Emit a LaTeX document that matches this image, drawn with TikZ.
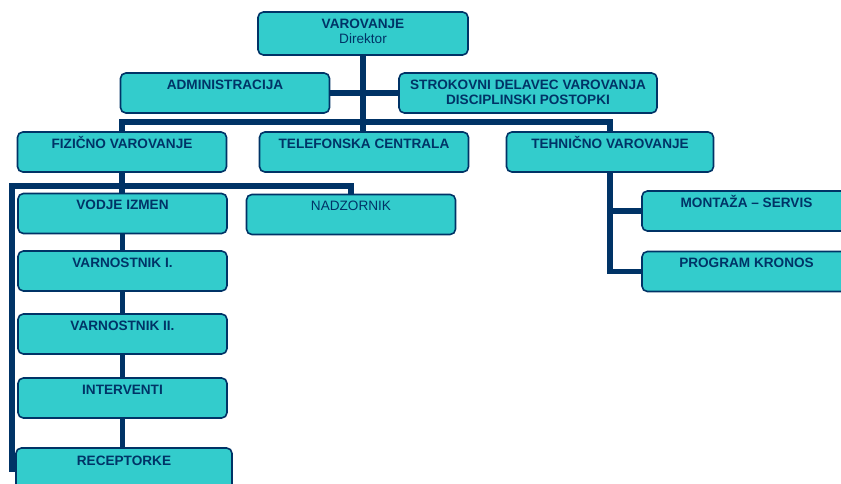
\documentclass[tikz,border=0pt]{standalone}
\usepackage{fontspec}
\setmainfont{Liberation Sans}
\usepackage{xcolor}
\usepackage{tikz}
\usetikzlibrary{positioning,calc}

\definecolor{navy}{HTML}{003366}
\definecolor{aqua}{HTML}{33CCCC}

\begin{document}
\begin{tikzpicture}[
    x=0.75pt, y=-0.75pt,
    unit/.style={rectangle, draw=navy, line width=1.2pt, fill=aqua, rounded corners=4pt, text=navy, font=\fontsize{10.2}{11.5}\selectfont\bfseries, align=center, minimum width=156.75pt, minimum height=30pt, inner xsep=2pt, inner ysep=3.5pt, text height=8.8pt, text depth=14.2pt},
    link/.style={draw=navy, line width=4.2pt, line join=miter}
]
\useasboundingbox (0,0) rectangle (841,484);
\clip (0,0) rectangle (841,484);

% Management
\node[unit, minimum width=157.5pt, minimum height=32.25pt, text height=20.3pt, text depth=4.95pt] (varovanje) at (363,33.5) {VAROVANJE\\\mdseries Direktor};
\node[unit] (admin) at (225,93) {ADMINISTRACIJA};
\node[unit, minimum width=193.5pt, text height=20.3pt, text depth=2.7pt] (strokovni) at (528,93) {STROKOVNI DELAVEC VAROVANJA\\DISCIPLINSKI POSTOPKI};

% Departments
\node[unit] (fizicno) at (122,152) {FIZIČNO VAROVANJE};
\node[unit] (telefon) at (364,152) {TELEFONSKA CENTRALA};
\node[unit, minimum width=155.25pt] (tehnicno) at (610,152) {TEHNIČNO VAROVANJE};

% Physical security
\node[unit] (vodje) at (122.5,213.5) {VODJE IZMEN};
\node[unit, font=\fontsize{10.2}{11.5}\selectfont] (nadzornik) at (351,214.5) {NADZORNIK};
\node[unit] (varn1) at (122.5,271) {VARNOSTNIK I.};
\node[unit] (varn2) at (122.5,334) {VARNOSTNIK II.};
\node[unit] (interv) at (122.5,398) {INTERVENTI};
\node[unit, minimum width=162pt, minimum height=31.5pt, text depth=14.7pt] (recep) at (124,469) {RECEPTORKE};

% Technical security
\node[unit] (montaza) at (746.5,211) {MONTAŽA – SERVIS};
\node[unit] (kronos) at (746.5,271.5) {PROGRAM KRONOS};

% Bus lines
\coordinate (bus) at (0,122);
\coordinate (sub) at (12,186);

% Connectors
\draw[link] (varovanje.south) -- (varovanje.south |- telefon.north);
\draw[link] (admin.east) -- (strokovni.west);
\draw[link] (fizicno.north) |- (tehnicno.north |- bus) -- (tehnicno.north);

\draw[link] (nadzornik.north) |- (sub) |- (recep.west);
\foreach \a/\b in {fizicno/vodje, vodje/varn1, varn1/varn2, varn2/interv, interv/recep}
    \draw[link] (\a.south) -- (\a.south |- \b.north);

\draw[link] (tehnicno.south) |- (kronos.west);
\draw[link] (tehnicno.south |- montaza.west) -- (montaza.west);

\end{tikzpicture}
\end{document}
